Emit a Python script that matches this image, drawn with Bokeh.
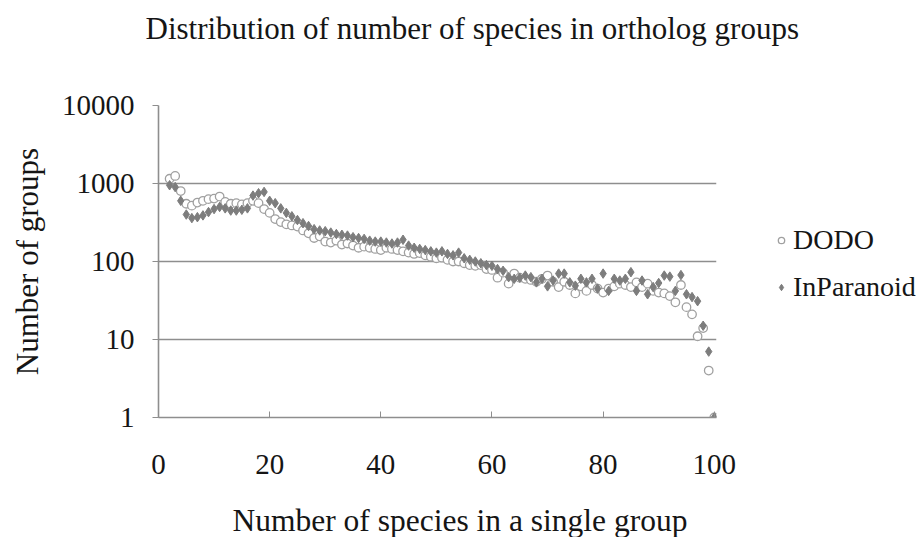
import math
from bokeh.plotting import figure
from bokeh.models import Range1d, FixedTicker, Title, Legend, LegendItem, ColumnDataSource
from bokeh.embed import file_html
from bokeh.resources import INLINE

# ---------------- data ----------------
species = list(range(2, 101))
dodo = [1150, 1250, 800, 550, 520, 570, 600, 630, 640, 680,
        580, 550, 560, 540, 560, 600, 560, 470, 420, 350,
        320, 300, 290, 280, 250, 230, 200, 210, 180, 175,
        185, 165, 170, 160, 150, 155, 150, 145, 140, 150,
        145, 140, 135, 130, 125, 128, 120, 115, 110, 112,
        105, 100, 100, 95, 90, 88, 90, 80, 78, 62,
        72, 52, 70, 62, 60, 58, 55, 60, 66, 55,
        47, 55, 50, 39, 48, 42, 50, 45, 40, 45,
        48, 52, 50, 47, 54, 47, 52, 42, 40, 39,
        36, 30, 50, 26, 21, 11, 14, 4, 1]
inparanoid = [950, 900, 600, 400, 360, 370, 390, 430, 470, 500,
              480, 450, 450, 460, 480, 700, 750, 780, 600, 560,
              480, 420, 380, 340, 310, 285, 260, 250, 245, 235,
              225, 220, 215, 205, 200, 195, 185, 180, 180, 175,
              170, 175, 190, 160, 150, 145, 140, 135, 130, 135,
              125, 120, 130, 110, 105, 100, 95, 90, 88, 80,
              76, 63, 60, 62, 66, 63, 54, 60, 48, 57,
              70, 70, 54, 49, 60, 54, 60, 45, 70, 42,
              60, 57, 60, 73, 42, 57, 38, 47, 53, 66,
              64, 42, 67, 38, 35, 31, 15, 7, 1]
x_ticks = [0, 20, 40, 60, 80, 100]
y_ticks = [1, 10, 100, 1000, 10000]
y_tick_labels = ["1", "10", "100", "1000", "10000"]
series_names = ["DODO", "InParanoid"]
title_text = "Distribution of number of species in ortholog groups"
x_label_text = "Number of species in a single group"
y_label_text = "Number of groups"

FONT = "Liberation Serif"
TXT = "#151515"
GRID = "#8e8e8e"

# ---------------- figure ----------------
p = figure(frame_width=558, frame_height=312, output_backend="svg", toolbar_location=None,
           title=None, y_axis_type="log",
           x_range=Range1d(0, 100.4), y_range=Range1d(1, 10000),
           min_border_left=158, min_border_right=202,
           min_border_top=105, min_border_bottom=118)
p.outline_line_color = None
p.background_fill_color = "white"
p.border_fill_color = "white"

# title: a spacer panel next to the frame, then the title text
p.add_layout(Title(text=" ", text_font_size="1px", standoff=57), "above")
p.add_layout(Title(text=title_text, text_font=FONT, text_font_size="31px",
                   text_font_style="normal", text_color=TXT,
                   align="left", offset=-13, standoff=0), "above")

# grid
p.xgrid.grid_line_color = None
p.ygrid.grid_line_color = GRID
p.ygrid.grid_line_width = 1.6
p.ygrid.ticker = FixedTicker(ticks=y_ticks)

# x axis
xa = p.xaxis[0]
xa.ticker = FixedTicker(ticks=x_ticks)
xa.axis_line_color = GRID
xa.axis_line_width = 1.6
xa.major_tick_line_color = GRID
xa.major_tick_in = 6
xa.major_tick_out = 0
xa.minor_tick_line_color = None
xa.major_label_text_font = FONT
xa.major_label_text_font_size = "29px"
xa.major_label_text_color = TXT
xa.major_label_standoff = 37

# y axis
ya = p.yaxis[0]
ya.ticker = FixedTicker(ticks=y_ticks)
ya.major_label_overrides = {t: s for t, s in zip(y_ticks, y_tick_labels)}
ya.axis_line_color = GRID
ya.axis_line_width = 1.6
ya.major_tick_line_color = GRID
ya.major_tick_in = 0
ya.major_tick_out = 6
ya.minor_tick_line_color = None
ya.major_label_text_font = FONT
ya.major_label_text_font_size = "29px"
ya.major_label_text_color = TXT
ya.major_label_standoff = 18
ya.axis_label = y_label_text
ya.axis_label_text_font = FONT
ya.axis_label_text_font_size = "31px"
ya.axis_label_text_font_style = "normal"
ya.axis_label_text_color = TXT
ya.axis_label_standoff = 14

# x label: spacer then the label text, below the axis
p.add_layout(Title(text=" ", text_font_size="1px", standoff=21), "below")
p.add_layout(Title(text=x_label_text, text_font=FONT, text_font_size="31.5px",
                   text_font_style="normal", text_color=TXT,
                   align="left", offset=74, standoff=0), "below")

# data
src = ColumnDataSource(dict(x=species, dodo=dodo, inp=inparanoid))
r1 = p.scatter("x", "dodo", source=src, marker="circle", size=8.5,
               fill_color="white", line_color="#a0a0a0", line_width=1.3)
r2 = p.scatter("x", "inp", source=src, marker="diamond", size=9.5,
               fill_color="#7d7d7d", line_color="#7d7d7d", line_width=1)

# legend
legend = Legend(items=[LegendItem(label=series_names[0], renderers=[r1]),
                       LegendItem(label=series_names[1], renderers=[r2])],
                location=(57, 114), orientation="vertical",
                background_fill_alpha=0, border_line_color=None,
                padding=0, margin=0, spacing=15,
                glyph_width=16, glyph_height=16, label_height=32,
                label_standoff=4,
                label_text_font=FONT, label_text_font_size="28px",
                label_text_color=TXT)
p.add_layout(legend, "right")

open("out.html", "w").write(file_html(p, INLINE))
